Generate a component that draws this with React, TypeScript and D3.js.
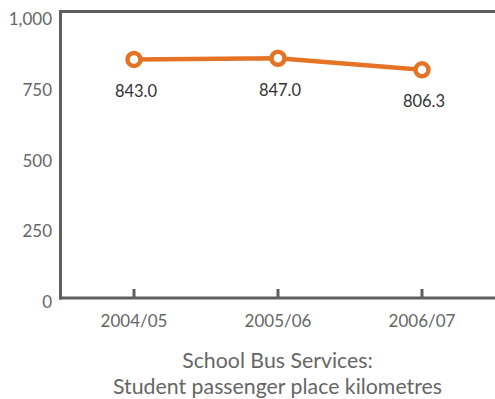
import React from "react";
import * as d3 from "d3";

const categories: string[] = ["2004/05", "2005/06", "2006/07"];
const values: number[] = [843.0, 847.0, 806.3];
const yTicks: number[] = [0, 250, 500, 750, 1000];
const titleLines: string[] = ["School Bus Services:", "Student passenger place kilometres"];

const W = 495;
const H = 399;
const FONT = "Lato, 'Open Sans', sans-serif";
const AXIS = "#5f5f5f";
const ORANGE = "#e57325";

export default function App() {
  const left = 60.5;
  const top = 11.5;
  const bottom = 298;

  const x = d3.scalePoint<string>().domain(categories).range([62, 494]).padding(0.5);
  const y = d3.scaleLinear().domain([0, 1000]).range([bottom, 15]);
  const line = d3
    .line<number>()
    .x((_, i) => x(categories[i]) as number)
    .y((d) => y(d));
  const fmt = d3.format(",");

  return (
    <svg width={W} height={H} style={{ position: "absolute", left: 0, top: 0 }} fontFamily={FONT}>
      <rect width={W} height={H} fill="#fff" />
      {/* frame */}
      <line x1={left - 1.5} x2={W} y1={top} y2={top} stroke={AXIS} strokeWidth={3} />
      <line x1={left} x2={left} y1={top - 1.5} y2={bottom + 1.5} stroke={AXIS} strokeWidth={3} />
      <line x1={left - 1.5} x2={W} y1={bottom} y2={bottom} stroke={AXIS} strokeWidth={3} />
      {/* x ticks */}
      {categories.map((c) => (
        <g key={c}>
          <line x1={x(c)} x2={x(c)} y1={bottom - 9} y2={bottom} stroke={AXIS} strokeWidth={3} />
          <text x={x(c)} y={327} textAnchor="middle" fontSize={17} fill="#666">
            {c}
          </text>
        </g>
      ))}
      {/* y tick labels */}
      {yTicks.map((t) => (
        <text key={t} x={52} y={y(t) + 10} textAnchor="end" fontSize={17} fill="#666">
          {fmt(t)}
        </text>
      ))}
      {/* series */}
      <path d={line(values) || ""} fill="none" stroke={ORANGE} strokeWidth={4.5} />
      {values.map((v, i) => (
        <g key={i}>
          <circle cx={x(categories[i])} cy={y(v)} r={6.5} fill="#fff" stroke={ORANGE} strokeWidth={4.5} />
          <text x={(x(categories[i]) as number) + 2} y={y(v) + 37.5} textAnchor="middle" fontSize={16.5} fill="#333">
            {v.toFixed(1)}
          </text>
        </g>
      ))}
      {/* title */}
      {titleLines.map((t, i) => (
        <text key={i} x={277.5} y={368 + i * 26} textAnchor="middle" fontSize={21.3} fill="#666">
          {t}
        </text>
      ))}
    </svg>
  );
}
